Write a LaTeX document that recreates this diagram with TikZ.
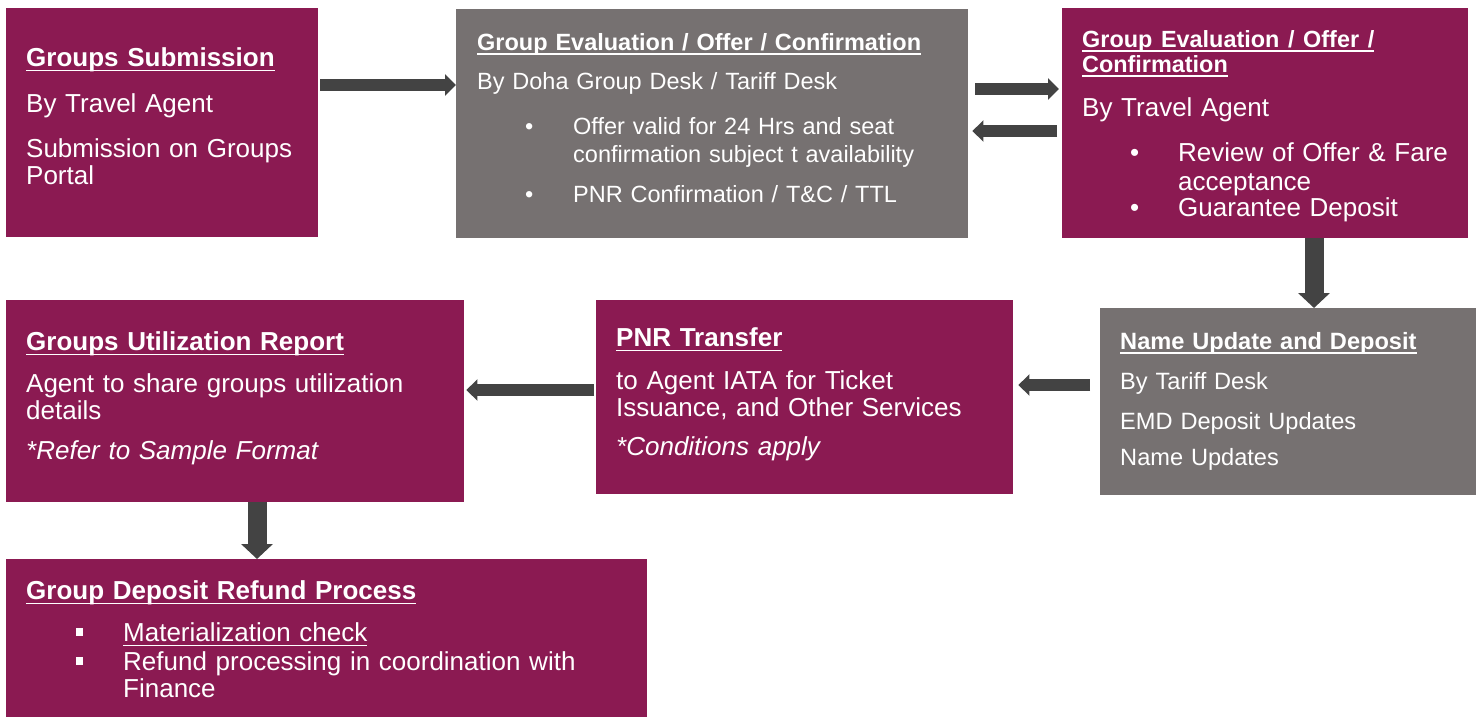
\documentclass[tikz,border=0pt]{standalone}
\usepackage{fontspec}
\setmainfont{Liberation Sans}
\usetikzlibrary{arrows.meta, positioning}

\definecolor{plum}{HTML}{8B1A52}
\definecolor{slate}{HTML}{767171}
\definecolor{arrowgrey}{HTML}{434343}

% fixed line pitch, whatever the glyphs
\setlength{\lineskiplimit}{-50pt}
% underline sitting at a fixed depth below the baseline
\newcommand\ul[1]{\setbox0\hbox{#1}\rlap{\rule[-0.21em]{\wd0}{0.075em}}\box0}
% bullets
\newcommand\dotitem[2]{\hspace*{#1}\makebox[#2][l]{\textbullet}}
\newcommand\sqitem[2]{\hspace*{#1}\makebox[#2][l]{\rule[0.19em]{0.27em}{0.3em}}}

\tikzset{
  stepbox/.style={fill=#1, draw=none, anchor=north west, inner sep=0pt},
  boxtext/.style={anchor=base west, inner sep=0pt, text width=600pt, align=left,
    text=white, font=\fontsize{#1}{#1}\selectfont},
  boxtext/.default=26,
  flowarrow/.style={draw=arrowgrey, line width=12pt,
    -{Triangle[width=21pt,length=11pt]}},
  downarrow/.style={draw=arrowgrey, line width=19pt,
    -{Triangle[width=31pt,length=15pt]}},
}

\begin{document}
\begin{tikzpicture}[x=1pt,y=-1pt]
  \useasboundingbox (0,0) rectangle (1481,716);

  % boxes, top row
  \node[stepbox=plum,  minimum width=312pt, minimum height=229pt] (submit) at (6,8) {};
  \node[stepbox=slate, minimum width=512pt, minimum height=229pt] (evaldesk) at (456,9) {};
  \node[stepbox=plum,  minimum width=406pt, minimum height=230pt] (evalagent) at (1062,8) {};
  % middle row
  \node[stepbox=slate, minimum width=376pt, minimum height=187pt] (names) at (1100,308) {};
  \node[stepbox=plum,  minimum width=417pt, minimum height=194pt] (pnr) at (596,300) {};
  \node[stepbox=plum,  minimum width=458pt, minimum height=202pt] (usage) at (6,300) {};
  % bottom
  \node[stepbox=plum,  minimum width=641pt, minimum height=160pt] (refund) at (6,559) {};

  % texts
  \node[boxtext] (submittxt) at (26,66) {
    \textbf{\ul{Groups Submission}}\\[20pt]
    By Travel Agent\\[19pt]
    Submission on Groups\\[1pt]
    Portal};

  \node[boxtext=23.5] (evaldesktxt) at (477,50) {
    \textbf{\ul{Group Evaluation / Offer / Confirmation}}\\[16pt]
    By Doha Group Desk / Tariff Desk\\[21pt]
    \dotitem{48pt}{48pt}Offer valid for 24 Hrs and seat\\[5pt]
    \hspace*{96pt}confirmation subject t availability\\[16pt]
    \dotitem{48pt}{48pt}PNR Confirmation / T\&C / TTL};

  \node[boxtext] (evalagenttxt) at (1082,47) {
    {\fontsize{23.4}{26}\selectfont\textbf{\ul{Group Evaluation / Offer /}}}\\[-1pt]
    {\fontsize{23.4}{26}\selectfont\textbf{\ul{Confirmation}}}\\[18pt]
    By Travel Agent\\[19pt]
    \dotitem{48pt}{48pt}Review of Offer \& Fare\\[3pt]
    \hspace*{96pt}acceptance\\[0pt]
    \dotitem{48pt}{48pt}Guarantee Deposit};

  \node[boxtext=23.6] (namestxt) at (1120,349) {
    \textbf{\ul{Name Update and Deposit}}\\[17pt]
    By Tariff Desk\\[16pt]
    EMD Deposit Updates\\[13pt]
    Name Updates};

  \node[boxtext] (pnrtxt) at (616,346) {
    \textbf{\ul{PNR Transfer}}\\[17pt]
    to Agent IATA for Ticket\\[1pt]
    Issuance, and Other Services\\[13pt]
    \textit{*Conditions apply}};

  \node[boxtext] (usagetxt) at (26,350) {
    \textbf{\ul{Groups Utilization Report}}\\[16pt]
    Agent to share groups utilization\\[1pt]
    details\\[14pt]
    \textit{*Refer to Sample Format}};

  \node[boxtext] (refundtxt) at (26,599) {
    \textbf{\ul{Group Deposit Refund Process}}\\[16pt]
    \sqitem{50pt}{47pt}\ul{Materialization check}\\[3pt]
    \sqitem{50pt}{47pt}Refund processing in coordination with\\[1pt]
    \hspace*{97pt}Finance};

  % arrow rows and columns
  \coordinate (rowA) at (0,85);
  \coordinate (rowB) at (0,89);
  \coordinate (rowC) at (0,131);
  \coordinate (rowD) at (0,385);
  \coordinate (rowE) at (0,390);
  \coordinate (colA) at (1314,0);
  \coordinate (colB) at (257,0);

  % connectors
  \draw[flowarrow] ([xshift=2pt]submit.east |- rowA) -- (evaldesk.west |- rowA);
  \draw[flowarrow] ([xshift=7pt]evaldesk.east |- rowB) -- ([xshift=-3pt]evalagent.west |- rowB);
  \draw[flowarrow] ([xshift=-5pt]evalagent.west |- rowC) -- ([xshift=4pt]evaldesk.east |- rowC);
  \draw[downarrow] (evalagent.south -| colA) -- (names.north -| colA);
  \draw[flowarrow] ([xshift=-10pt]names.west |- rowD) -- ([xshift=5pt]pnr.east |- rowD);
  \draw[flowarrow] ([xshift=-2pt]pnr.west |- rowE) -- ([xshift=2pt]usage.east |- rowE);
  \draw[downarrow] (usage.south -| colB) -- (refund.north -| colB);

\end{tikzpicture}
\end{document}
